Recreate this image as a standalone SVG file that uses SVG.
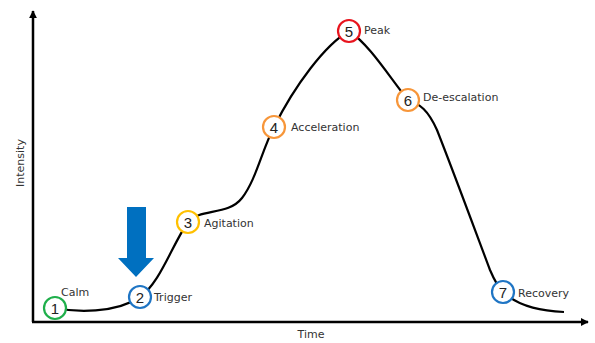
<svg xmlns="http://www.w3.org/2000/svg" width="595" height="343" viewBox="0 0 595 343">
<defs>
<style>
.lbl{font-family:"DejaVu Sans","Liberation Sans",sans-serif;font-size:11px;fill:#333}
.num{font-family:"Liberation Sans","DejaVu Sans",sans-serif;font-size:15px;fill:#222;text-anchor:middle}
.ring{fill:#fff;stroke-width:2.2}
.axis{stroke:#000;stroke-width:2.5;fill:none}
</style>
<marker id="ah" viewBox="0 0 10 10" refX="9" refY="5" markerWidth="3.2" markerHeight="3.2" orient="auto" markerUnits="strokeWidth">
<path d="M0,0 L10,5 L0,10 z" fill="#000"/>
</marker>
</defs>
<rect width="595" height="343" fill="#fff"/>
<g id="axes">
<line class="axis" x1="33" y1="322" x2="33" y2="11" marker-end="url(#ah)"/>
<line class="axis" x1="32" y1="322" x2="588" y2="322" marker-end="url(#ah)"/>
<text class="lbl" x="311" y="338" text-anchor="middle">Time</text>
<text class="lbl" transform="translate(24,163) rotate(-90)" text-anchor="middle">Intensity</text>
</g>
<g id="connectors">
<path d="M55,308 C75,312 115,314 140,297 C160,283 172,245 188,222 C200,208 228,216 242,198 C256,180 262,150 274,127 C295,85 325,45 349,31 C370,45 390,78 408,100 C420,104 428,110 437,130 C452,168 472,222 490,270 C496,284 499,288 503,292 C520,308 545,311 564,312" fill="none" stroke="#000" stroke-width="2.2"/>
</g>
<g id="trigger-arrow">
<path d="M127,207 L146,207 L146,258 L154,258 L136,277 L118,258 L127,258 z" fill="#0070C0"/>
</g>
<g id="n1"><circle class="ring" cx="55" cy="308" r="11" stroke="#1FAF4B"/><text class="num" x="55" y="313.5">1</text><text class="lbl" x="61" y="296">Calm</text></g>
<g id="n2"><circle class="ring" cx="140" cy="297" r="11" stroke="#1F75C4"/><text class="num" x="140" y="302.5">2</text><text class="lbl" x="154" y="301">Trigger</text></g>
<g id="n3"><circle class="ring" cx="188" cy="222" r="11" stroke="#FFC000"/><text class="num" x="188" y="227.5">3</text><text class="lbl" x="204" y="227">Agitation</text></g>
<g id="n4"><circle class="ring" cx="274" cy="127" r="11" stroke="#F7963A"/><text class="num" x="274" y="132.5">4</text><text class="lbl" x="291" y="131">Acceleration</text></g>
<g id="n5"><circle class="ring" cx="349" cy="31" r="11" stroke="#E8141E"/><text class="num" x="349" y="36.5">5</text><text class="lbl" x="364" y="34">Peak</text></g>
<g id="n6"><circle class="ring" cx="408" cy="100" r="11" stroke="#F7963A"/><text class="num" x="408" y="105.5">6</text><text class="lbl" x="423" y="101">De-escalation</text></g>
<g id="n7"><circle class="ring" cx="503" cy="292" r="11" stroke="#1F75C4"/><text class="num" x="503" y="297.5">7</text><text class="lbl" x="518" y="297">Recovery</text></g>
</svg>
